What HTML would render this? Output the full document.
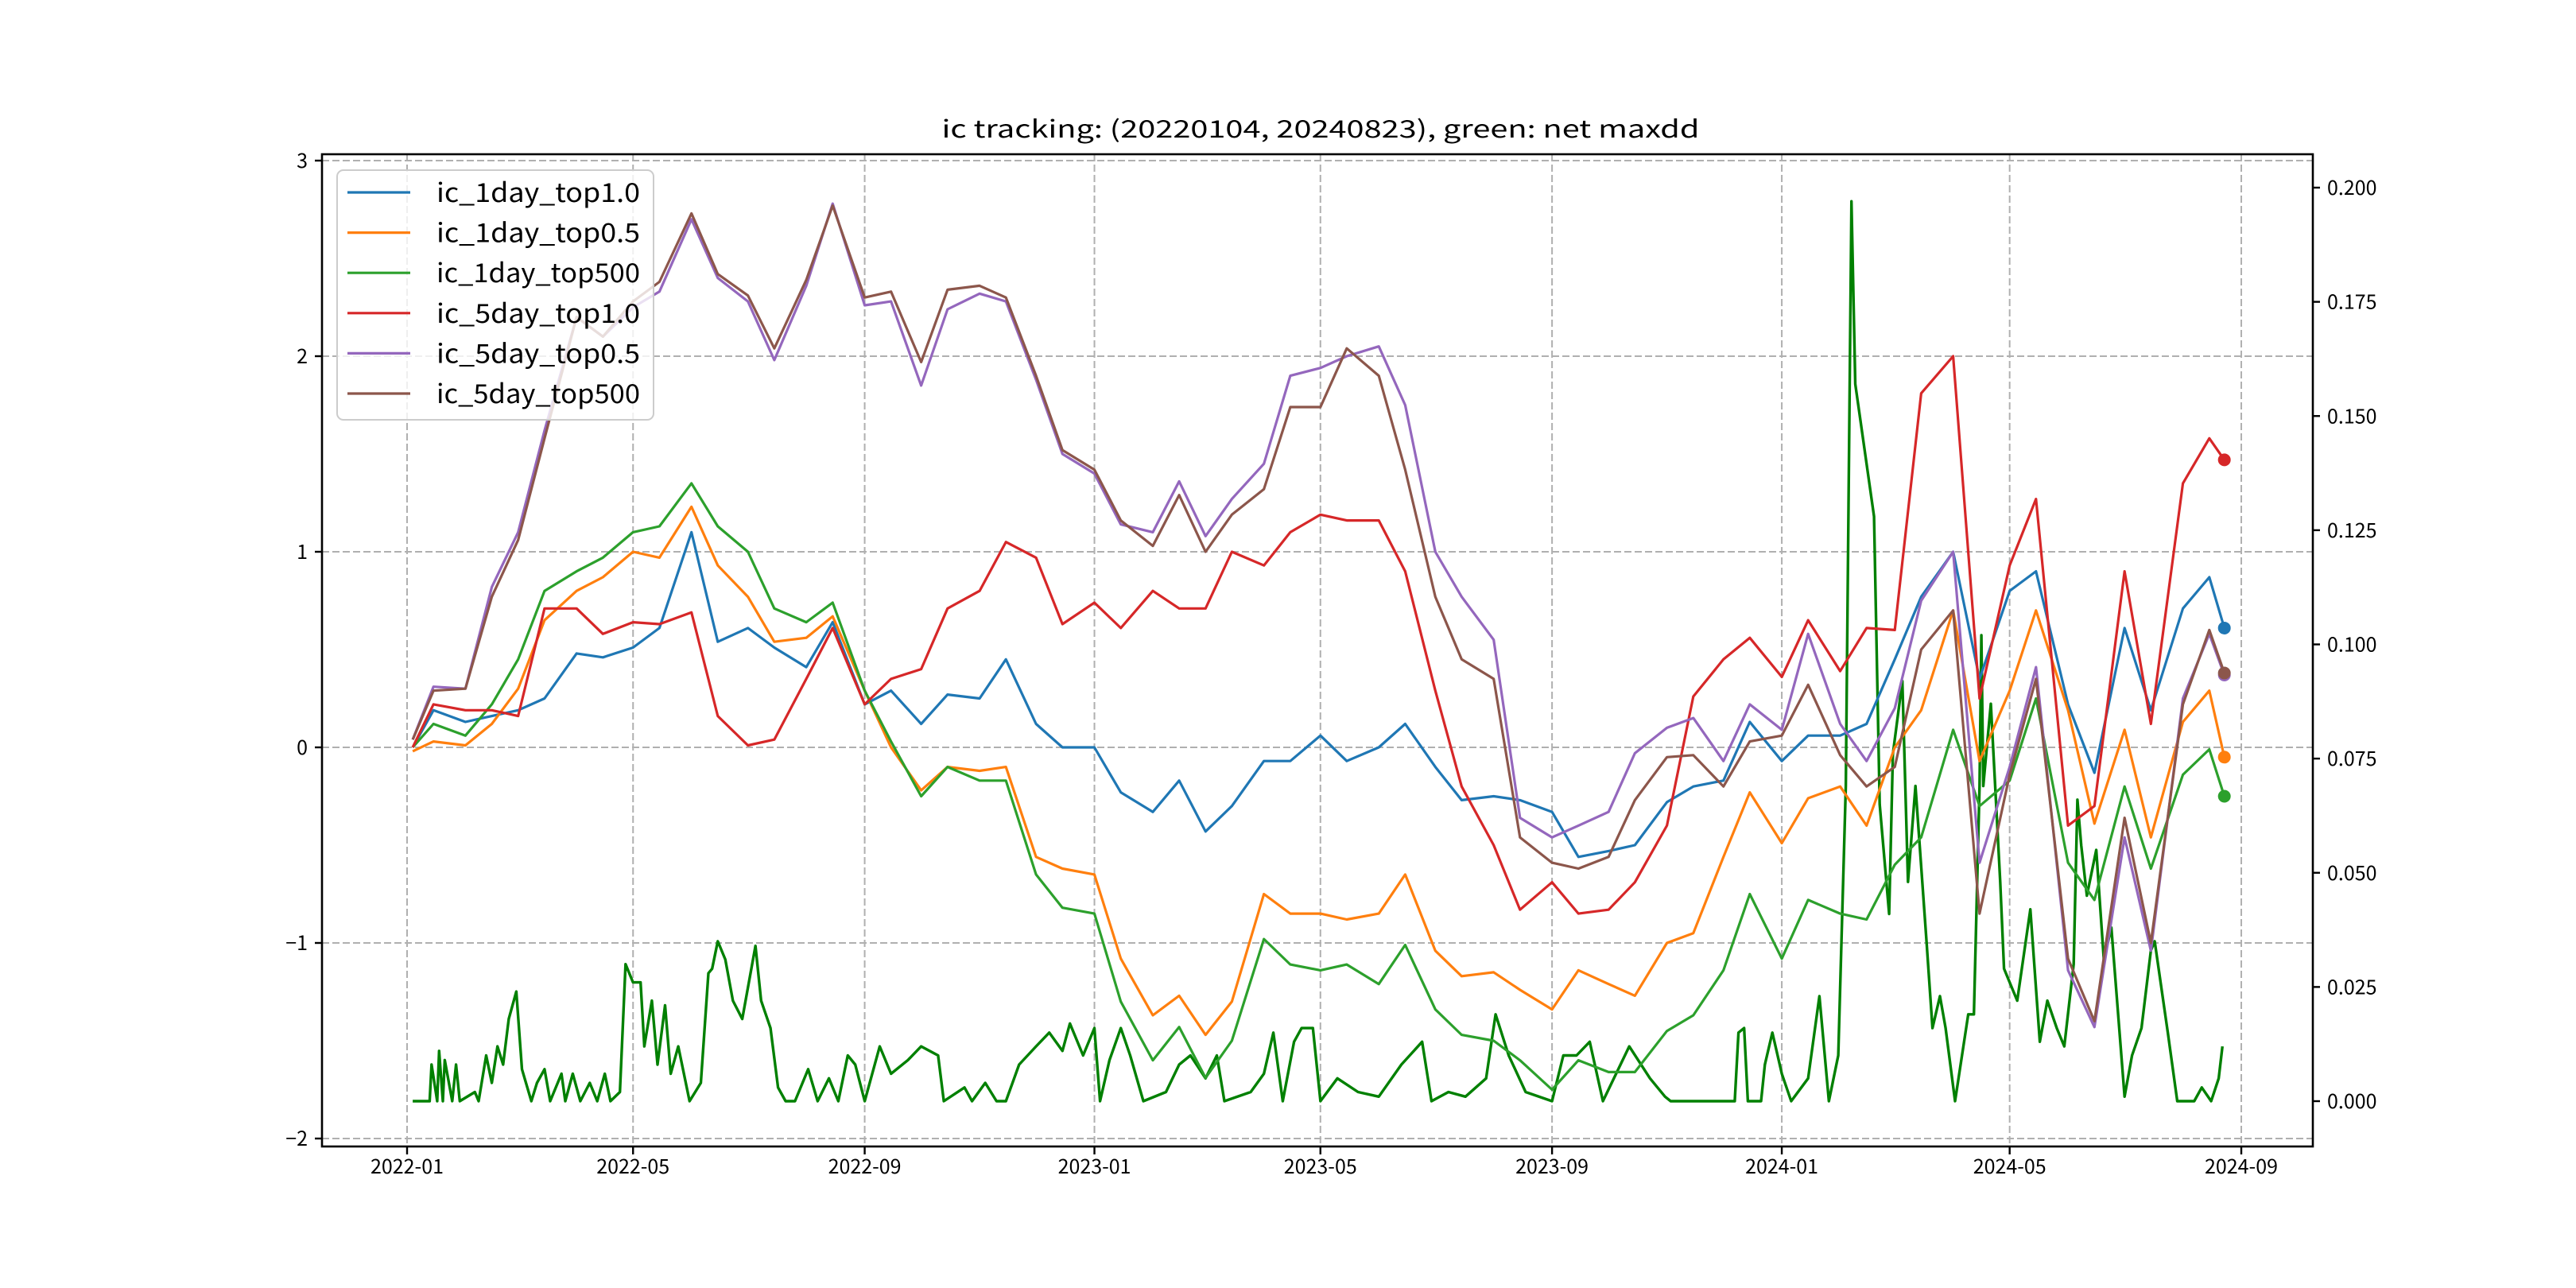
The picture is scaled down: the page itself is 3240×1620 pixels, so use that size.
<!DOCTYPE html>
<html><head><meta charset="utf-8">
<style>
html,body{margin:0;padding:0;background:#fff;}
svg{display:block;}
text{font-family:"WenQuanYi Zen Hei","Noto Sans CJK SC","Liberation Sans",sans-serif;fill:#000;}
</style></head>
<body>
<svg id="chart" width="3240" height="1620" viewBox="0 0 3240 1620" xmlns="http://www.w3.org/2000/svg">
<rect x="0" y="0" width="3240" height="1620" fill="#fff"/>
<text x="1661" y="173" font-size="30" text-anchor="middle" textLength="953" lengthAdjust="spacingAndGlyphs">ic tracking: (20220104, 20240823), green: net maxdd</text>
<g id="grid"></g>
<g id="series"></g>
<rect x="405" y="194" width="2504" height="1248" fill="none" stroke="#000" stroke-width="2.6"/>
<g id="axes"></g>
<g id="legend"></g>
</svg>
<script>
const dates = ["2022-01-04","2022-01-15","2022-02-01","2022-02-15","2022-03-01","2022-03-15","2022-04-01","2022-04-15","2022-05-01","2022-05-15","2022-06-01","2022-06-15","2022-07-01","2022-07-15","2022-08-01","2022-08-15","2022-09-01","2022-09-15","2022-10-01","2022-10-15","2022-11-01","2022-11-15","2022-12-01","2022-12-15",
"2023-01-01","2023-01-15","2023-02-01","2023-02-15","2023-03-01","2023-03-15","2023-04-01","2023-04-15","2023-05-01","2023-05-15","2023-06-01","2023-06-15","2023-07-01","2023-07-15","2023-08-01","2023-08-15","2023-09-01","2023-09-15","2023-10-01","2023-10-15","2023-11-01","2023-11-15","2023-12-01","2023-12-15",
"2024-01-01","2024-01-15","2024-02-01","2024-02-15","2024-03-01","2024-03-15","2024-04-01","2024-04-15","2024-05-01","2024-05-15","2024-06-01","2024-06-15","2024-07-01","2024-07-15","2024-08-01","2024-08-15","2024-08-23"];
const ic1dTop10 = [0,0.19,0.13,0.16,0.19,0.25,0.48,0.46,0.51,0.61,1.1,0.54,0.61,0.51,0.41,0.64,0.22,0.29,0.12,0.27,0.25,0.45,0.12,0.0,
0.0,-0.23,-0.33,-0.17,-0.43,-0.3,-0.07,-0.07,0.06,-0.07,0.0,0.12,-0.1,-0.27,-0.25,-0.27,-0.33,-0.56,-0.53,-0.5,-0.28,-0.2,-0.17,0.13,
-0.07,0.06,0.06,0.12,0.45,0.77,1.0,0.35,0.8,0.9,0.22,-0.13,0.61,0.19,0.71,0.87,0.61];
const ic1dTop05 = [-0.02,0.03,0.01,0.12,0.3,0.65,0.8,0.87,1.0,0.97,1.23,0.93,0.77,0.54,0.56,0.67,0.29,0.0,-0.22,-0.1,-0.12,-0.1,-0.56,-0.62,
-0.65,-1.08,-1.37,-1.27,-1.47,-1.3,-0.75,-0.85,-0.85,-0.88,-0.85,-0.65,-1.04,-1.17,-1.15,-1.24,-1.34,-1.14,-1.21,-1.27,-1.0,-0.95,-0.56,-0.23,
-0.49,-0.26,-0.2,-0.4,0.0,0.19,0.7,-0.07,0.29,0.7,0.19,-0.39,0.09,-0.46,0.13,0.29,-0.05];
const ic1dTop500 = [0,0.12,0.06,0.22,0.45,0.8,0.9,0.97,1.1,1.13,1.35,1.13,1.0,0.71,0.64,0.74,0.29,0.03,-0.25,-0.1,-0.17,-0.17,-0.65,-0.82,
-0.85,-1.3,-1.6,-1.43,-1.69,-1.5,-0.98,-1.11,-1.14,-1.11,-1.21,-1.01,-1.34,-1.47,-1.5,-1.6,-1.75,-1.6,-1.66,-1.66,-1.45,-1.37,-1.14,-0.75,
-1.08,-0.78,-0.85,-0.88,-0.6,-0.46,0.09,-0.3,-0.17,0.25,-0.59,-0.78,-0.2,-0.62,-0.14,-0.01,-0.25];
const ic5dTop10 = [0.0,0.22,0.19,0.19,0.16,0.71,0.71,0.58,0.64,0.63,0.69,0.16,0.01,0.04,0.35,0.61,0.22,0.35,0.4,0.71,0.8,1.05,0.97,0.63,
0.74,0.61,0.8,0.71,0.71,1.0,0.93,1.1,1.19,1.16,1.16,0.9,0.29,-0.2,-0.5,-0.83,-0.69,-0.85,-0.83,-0.69,-0.4,0.26,0.45,0.56,
0.36,0.65,0.39,0.61,0.6,1.81,2.0,0.25,0.93,1.27,-0.4,-0.3,0.9,0.12,1.35,1.58,1.47];
const ic5dTop05 = [0.04,0.31,0.3,0.82,1.1,1.62,2.2,2.1,2.25,2.33,2.7,2.4,2.28,1.98,2.36,2.78,2.26,2.28,1.85,2.24,2.32,2.28,1.88,1.5,
1.4,1.14,1.1,1.36,1.08,1.27,1.45,1.9,1.94,2.0,2.05,1.75,1.0,0.77,0.55,-0.36,-0.46,-0.4,-0.33,-0.03,0.1,0.15,-0.07,0.22,
0.09,0.58,0.12,-0.07,0.2,0.75,1.0,-0.59,-0.1,0.41,-1.14,-1.43,-0.46,-1.04,0.25,0.58,0.37];
const ic5dTop500 = [0.04,0.29,0.3,0.77,1.06,1.58,2.2,2.1,2.28,2.38,2.73,2.42,2.31,2.04,2.39,2.77,2.3,2.33,1.97,2.34,2.36,2.3,1.9,1.52,
1.42,1.16,1.03,1.29,1.0,1.19,1.32,1.74,1.74,2.04,1.9,1.42,0.77,0.45,0.35,-0.46,-0.59,-0.62,-0.56,-0.27,-0.05,-0.04,-0.2,0.03,
0.06,0.32,-0.04,-0.2,-0.1,0.5,0.7,-0.85,-0.14,0.35,-1.08,-1.4,-0.36,-1.0,0.22,0.6,0.38];
const mddDays = [3,12,13,16,17,19,20,24,26,28,36,38,42,45,48,51,54,58,61,66,69,73,76,82,84,88,92,97,101,105,108,113,116,120,124,126,130,133,137,140,144,147,150,156,160,162,165,169,173,178,185,188,193,197,201,206,213,218,224,229,234,238,243,251,257,266,273,282,285,296,300,307,313,
318,325,334,341,348,352,359,365,368,373,379,384,391,403,410,416,424,430,434,448,455,460,465,471,475,481,485,494,505,516,528,539,544,553,562,573,578,585,594,608,614,621,628,635,649,660,668,
671,680,705,707,710,712,719,721,725,730,735,744,750,755,760,764,767,769,779,782,787,789,794,797,801,807,810,814,817,822,829,832,835,836,837,841,846,848,855,862,867,871,876,880,885,887,889,892,897,901,905,912,916,921,926,928,935,940,949,953,958,962,964];
const mddValues = [0,0,0.008,0,0.011,0,0.009,0,0.008,0,0.002,0,0.01,0.004,0.012,0.008,0.018,0.024,0.007,0,0.004,0.007,0,0.006,0,0.006,0,0.004,0,0.006,0,0.002,0.03,0.026,0.026,0.012,0.022,0.008,0.021,0.006,0.012,0.006,0,0.004,0.028,0.029,0.035,0.031,0.022,0.018,0.034,0.022,0.016,0.003,0,0,0.007,0,0.005,0,0.01,0.008,0,0.012,0.006,0.009,0.012,0.01,0,0.003,0,0.004,0,
0,0.008,0.012,0.015,0.011,0.017,0.01,0.016,0,0.009,0.016,0.01,0,0.002,0.008,0.01,0.005,0.01,0,0.002,0.006,0.015,0,0.013,0.016,0.016,0,0.005,0.002,0.001,0.008,0.013,0,0.002,0.001,0.005,0.019,0.01,0.002,0,0.01,0.01,0.013,0,0.012,0.005,0.001,
0,0,0,0.015,0.016,0,0,0.008,0.015,0.006,0,0.005,0.023,0,0.01,0.069,0.197,0.157,0.128,0.065,0.041,0.076,0.092,0.048,0.069,0.034,0.016,0.023,0.016,0,0.019,0.019,0.069,0.102,0.069,0.087,0.048,0.029,0.022,0.042,0.013,0.022,0.016,0.012,0.03,0.066,0.056,0.045,0.055,0.031,0.038,0.001,0.01,0.016,0.033,0.035,0.015,0,0,0.003,0,0.005,0.012];
const xTickLabels = ["2022-01","2022-05","2022-09","2023-01","2023-05","2023-09","2024-01","2024-05","2024-09"];
const yLeftTicks = [3,2,1,0,-1,-2];
const yRightTicks = [0,0.025,0.05,0.075,0.1,0.125,0.15,0.175,0.2];

const NS="http://www.w3.org/2000/svg";
const T0 = Date.UTC(2022,0,1);
function dayOf(s){const p=s.split("-");return (Date.UTC(+p[0],+p[1]-1,+p[2])-T0)/86400000;}
function xScale(day){return 512 + day*2.3686;}
function yLeft(v){return 940 - v*246;}
function yRight(v){return 1385 - v*5745;}
function mk(tag,attrs,parent){const e=document.createElementNS(NS,tag);for(const k in attrs)e.setAttribute(k,attrs[k]);parent.appendChild(e);return e;}

const grid=document.getElementById('grid');
const axes=document.getElementById('axes');
xTickLabels.forEach(lbl=>{
  const x=xScale(dayOf(lbl+"-01"));
  const gl=mk('line',{x1:x,x2:x,y1:194,y2:1442,stroke:'#b0b0b0','stroke-width':2,'stroke-dasharray':'9,4'},grid);
  
  
  const tk=mk('line',{x1:x,x2:x,y1:1442,y2:1452,stroke:'#000','stroke-width':2.4},axes);
  
  
  const t=mk('text',{x:x,y:1476,'font-size':25,'text-anchor':'middle'},axes);
  t.textContent=lbl;
  
  
});
yLeftTicks.forEach(v=>{
  const y=yLeft(v);
  const gl=mk('line',{x1:405,x2:2909,y1:y,y2:y,stroke:'#b0b0b0','stroke-width':2,'stroke-dasharray':'9,4'},grid);
  
  
  const tk=mk('line',{x1:396,x2:405,y1:y,y2:y,stroke:'#000','stroke-width':2.4},axes);
  
  
  const t=mk('text',{x:387,y:y+9,'font-size':25,'text-anchor':'end'},axes);
  t.textContent=(v<0?"\u2212"+(-v):String(v));
  
  
});
yRightTicks.forEach(v=>{
  const y=yRight(v);
  const tk=mk('line',{x1:2909,x2:2918,y1:y,y2:y,stroke:'#000','stroke-width':2.4},axes);
  
  
  const t=mk('text',{x:2927,y:y+9,'font-size':25},axes);
  t.textContent=v.toFixed(3);
  
  
});

const seriesG=document.getElementById('series');
const mddPts=mddDays.map((d,i)=>xScale(d).toFixed(1)+","+yRight(mddValues[i]).toFixed(1)).join(" ");
const mdd=mk('polyline',{points:mddPts,fill:'none',stroke:'#008000','stroke-width':3.4,'stroke-linejoin':'round'},seriesG);



const series=[
 ["ic_1day_top1.0",ic1dTop10,"#1f77b4","series-ic-1day-top1-0"],
 ["ic_1day_top0.5",ic1dTop05,"#ff7f0e","series-ic-1day-top0-5"],
 ["ic_1day_top500",ic1dTop500,"#2ca02c","series-ic-1day-top500"],
 ["ic_5day_top1.0",ic5dTop10,"#d62728","series-ic-5day-top1-0"],
 ["ic_5day_top0.5",ic5dTop05,"#9467bd","series-ic-5day-top0-5"],
 ["ic_5day_top500",ic5dTop500,"#8c564b","series-ic-5day-top500"]
];
series.forEach(s=>{
  const vals=s[1];
  const pts=dates.map((d,i)=>xScale(dayOf(d)).toFixed(1)+","+yLeft(vals[i]).toFixed(1)).join(" ");
  const pl=mk('polyline',{points:pts,fill:'none',stroke:s[2],'stroke-width':3.2,'stroke-linejoin':'round'},seriesG);
  
  
});
series.forEach(s=>{
  const vals=s[1];
  const c=mk('circle',{cx:xScale(dayOf(dates[dates.length-1])),cy:yLeft(vals[vals.length-1]),r:8,fill:s[2]},seriesG);
  
  
});

const leg=document.getElementById('legend');
const box=mk('rect',{x:424,y:214,width:398,height:314,rx:8,fill:'#fff','fill-opacity':0.8,stroke:'#cccccc','stroke-width':2},leg);


series.forEach((s,i)=>{
  const y=242+i*50.6;
  const ln=mk('line',{x1:437,x2:516,y1:y,y2:y,stroke:s[2],'stroke-width':3.2},leg);
  
  
  const t=mk('text',{x:549,y:y+12,'font-size':33,textLength:256,lengthAdjust:'spacingAndGlyphs'},leg);
  t.textContent=s[0];
  
  
});
</script>
</body></html>
